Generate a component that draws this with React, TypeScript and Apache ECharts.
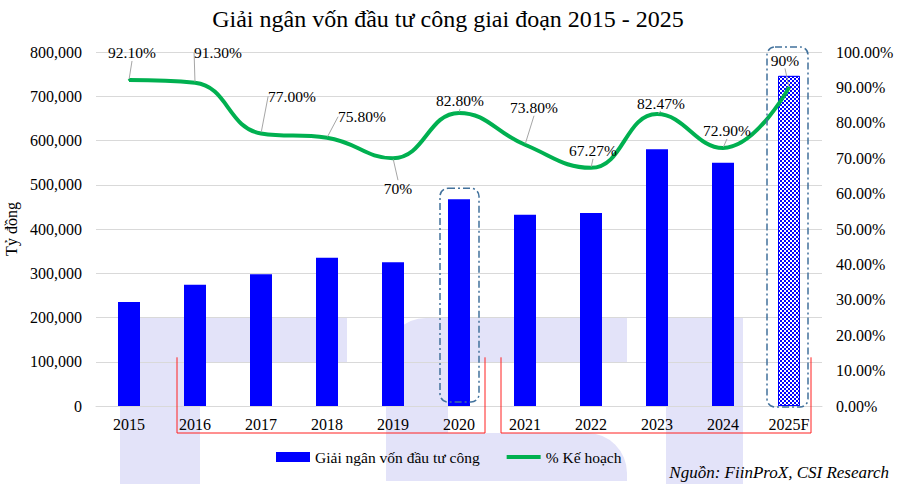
import React, { useEffect, useRef } from "react";
import * as echarts from "echarts";

const years = ["2015", "2016", "2017", "2018", "2019", "2020", "2021", "2022", "2023", "2024", "2025F"];
const disbursement = [235000, 274000, 298000, 335000, 325000, 467000, 432000, 436000, 580000, 550000, 746000];
const planPct = [92.1, 91.3, 77.0, 75.8, 70.0, 82.8, 73.8, 67.27, 82.47, 72.9, 90.0];
const pctLabels = ["92.10%", "91.30%", "77.00%", "75.80%", "70%", "82.80%", "73.80%", "67.27%", "82.47%", "72.90%", "90%"];
const leftMax = 800000;
const leftStep = 100000;
const rightMax = 100;
const rightStep = 10;

const titleText = "Giải ngân vốn đầu tư công giai đoạn 2015 - 2025";
const barName = "Giải ngân vốn đầu tư công";
const lineName = "% Kế hoạch";
const yName = "Tỷ đồng";
const sourceText = "Nguồn: FiinProX, CSI Research";

// label nudges (pixels) relative to default "top" placement
const labelNudge: [number, number][] = [
  [3, -13], [23, -16], [31, -23], [35, -7], [5, 44], [1, 2], [9, -23], [2, -3], [4, 3], [4, -3], [-4, -13],
];

const FONT = "'Liberation Serif', 'Times New Roman', serif";
const BLUE = "#0000FF";
const GREEN = "#00B050";
const WM = "#E3E3F9";

export default function App() {
  const ref = useRef<HTMLDivElement>(null);
  useEffect(() => {
    if (!ref.current) return;
    const chart = echarts.init(ref.current, undefined, { renderer: "svg" });
    const barData = disbursement.map((v, i) =>
      i === years.length - 1
        ? {
            value: v,
            itemStyle: {
              color: BLUE,
              borderColor: BLUE,
              borderWidth: 1,
              decal: {
                symbol: "rect",
                symbolSize: 1,
                color: "#FFFFFF",
                dashArrayX: [[2, 2], [0, 2, 2, 0]],
                dashArrayY: [2, 0],
                rotation: 0,
              },
            },
          }
        : v
    );
    chart.setOption({
      animation: false,
      textStyle: { fontFamily: FONT, color: "#000" },
      title: {
        text: titleText,
        left: 443,
        top: 2,
        textAlign: "center",
        textStyle: { fontFamily: FONT, fontSize: 24, fontWeight: "normal", color: "#000" },
      },
      legend: {
        left: 276,
        top: 449,
        padding: 0,
        itemGap: 25,
        itemWidth: 34,
        itemHeight: 10,
        textStyle: { fontFamily: FONT, fontSize: 15.5, color: "#000" },
        data: [
          { name: barName, icon: "rect" },
          { name: lineName, itemStyle: { opacity: 0 }, lineStyle: { width: 4, color: GREEN } },
        ],
      },
      grid: { left: 96, right: 98, top: 52, bottom: 78, containLabel: false, outerBoundsMode: "none" },
      xAxis: {
        type: "category",
        data: years,
        axisTick: { show: false },
        axisLine: { lineStyle: { color: "#D9D9D9", width: 1 } },
        axisLabel: { fontFamily: FONT, fontSize: 16, color: "#000", margin: 10 },
      },
      yAxis: [
        {
          type: "value",
          min: 0,
          max: leftMax,
          interval: leftStep,
          name: yName,
          nameLocation: "middle",
          nameGap: 66,
          nameRotate: 90,
          nameTextStyle: { fontFamily: FONT, fontSize: 16, color: "#000" },
          axisLabel: {
            fontFamily: FONT,
            fontSize: 16,
            color: "#000",
            margin: 14,
            formatter: (v: number) => v.toLocaleString("en-US"),
          },
          splitLine: { lineStyle: { color: "#D9D9D9", width: 1 } },
          axisLine: { show: false },
          axisTick: { show: false },
        },
        {
          type: "value",
          min: 0,
          max: rightMax,
          interval: rightStep,
          position: "right",
          axisLabel: {
            fontFamily: FONT,
            fontSize: 16,
            color: "#000",
            margin: 14,
            formatter: (v: number) => v.toFixed(2) + "%",
          },
          splitLine: { show: false },
          axisLine: { show: false },
          axisTick: { show: false },
        },
      ],
      series: [
        {
          name: barName,
          type: "bar",
          yAxisIndex: 0,
          barWidth: 22,
          itemStyle: { color: BLUE },
          data: barData,
          z: 2,
        },
        {
          name: lineName,
          type: "line",
          yAxisIndex: 1,
          smooth: 0.45,
          symbol: "circle",
          symbolSize: 2,
          showSymbol: true,
          itemStyle: { color: GREEN },
          lineStyle: { color: GREEN, width: 4 },
          data: planPct,
          z: 3,
          label: {
            show: true,
            position: "top",
            distance: 5,
            fontFamily: FONT,
            fontSize: 15.5,
            color: "#000",
            formatter: (p: any) => pctLabels[p.dataIndex],
          },
          labelLine: { show: true, lineStyle: { color: "#A6A6A6", width: 1 } },
          labelLayout: (p: any) => {
            const n = labelNudge[p.dataIndex] || [0, 0];
            return { dx: n[0], dy: n[1] };
          },
        },
      ],
    });

    const cx = (i: number) => (chart.convertToPixel({ xAxisIndex: 0 }, years[i]) as number);
    const py = (v: number) => (chart.convertToPixel({ yAxisIndex: 0 }, v) as number);
    const y0 = py(0);
    const yTop = py(110000);
    const yBot = y0 + 27;
    const red = { stroke: "#FF2020", lineWidth: 1, fill: "none" };
    const dash = { stroke: "#41719C", lineWidth: 1.5, fill: "none", lineDash: [7, 3, 2, 3] };
    const i20 = 5;
    const iF = years.length - 1;

    chart.setOption({
      graphic: [
        // watermark
        { type: "rect", z: -10, shape: { x: 120, y: 318, width: 80, height: 170, r: [14, 0, 0, 0] }, style: { fill: WM } },
        { type: "rect", z: -10, shape: { x: 120, y: 318, width: 227, height: 44, r: [14, 0, 0, 0] }, style: { fill: WM } },
        { type: "rect", z: -10, shape: { x: 386, y: 318, width: 241, height: 44, r: [40, 0, 0, 0] }, style: { fill: WM } },
        { type: "rect", z: -10, shape: { x: 386, y: 330, width: 62, height: 130 }, style: { fill: WM } },
        { type: "rect", z: -10, shape: { x: 386, y: 433, width: 241, height: 48, r: [0, 40, 0, 0] }, style: { fill: WM } },
        { type: "rect", z: -10, shape: { x: 666, y: 318, width: 77, height: 170 }, style: { fill: WM } },
        // red brackets
        {
          type: "polyline",
          z: 5,
          shape: { points: [[cx(1) - 18, yTop], [cx(1) - 18, yBot], [cx(i20) + 26, yBot], [cx(i20) + 26, yTop]] },
          style: red,
        },
        {
          type: "polyline",
          z: 5,
          shape: { points: [[cx(6) - 24, yTop], [cx(6) - 24, yBot], [cx(iF) + 22, yBot], [cx(iF) + 22, yTop]] },
          style: red,
        },
        // dashed highlight boxes
        {
          type: "rect",
          z: 5,
          shape: {
            x: cx(i20) - 19,
            y: py(disbursement[i20]) - 11,
            width: 39,
            height: y0 - 4 - (py(disbursement[i20]) - 11),
            r: 8,
          },
          style: dash,
        },
        {
          type: "rect",
          z: 5,
          shape: {
            x: cx(iF) - 22,
            y: py(disbursement[iF]) - 29,
            width: 41,
            height: y0 + 1 - (py(disbursement[iF]) - 29),
            r: 8,
          },
          style: dash,
        },
        // source
        {
          type: "text",
          z: 5,
          right: 31,
          top: 464,
          style: {
            text: sourceText,
            font: `italic 17px ${FONT}`,
            fill: "#000",
          },
        },
      ],
    });

    return () => chart.dispose();
  }, []);
  return (
    <div
      ref={ref}
      style={{ position: "fixed", left: 0, top: 0, width: 920, height: 484, background: "#fff" }}
    />
  );
}
